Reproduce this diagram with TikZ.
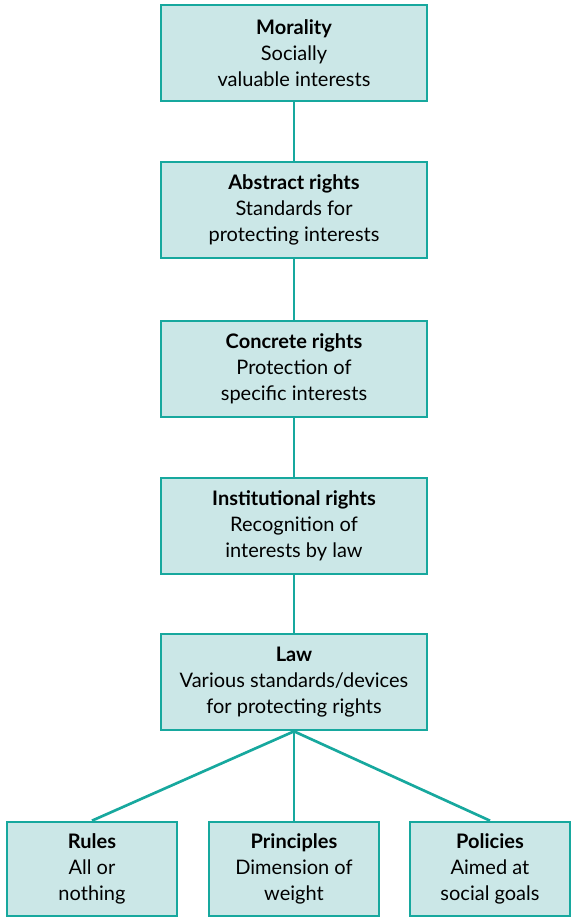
\documentclass[tikz,border=0pt]{standalone}
\usepackage{fontspec}
\setmainfont{Lato}
\definecolor{tealline}{HTML}{17A89E}
\definecolor{tealfill}{HTML}{CBE7E7}
\begin{document}
\begin{tikzpicture}[x=0.75pt,y=-0.75pt,
  box/.style={draw=tealline,fill=tealfill,line width=2pt,align=center,
    font=\fontsize{15}{19.5}\selectfont,inner sep=0pt},
  conn/.style={draw=tealline,line width=2pt}]
\useasboundingbox (0,0) rectangle (573,918);
\node[box,minimum width=266*0.75pt,minimum height=96*0.75pt] (m) at (294,53) {\textbf{Morality}\\Socially\\valuable interests};
\node[box,minimum width=266*0.75pt,minimum height=96*0.75pt] (a) at (294,210) {\textbf{Abstract rights}\\Standards for\\protecting interests};
\node[box,minimum width=266*0.75pt,minimum height=96*0.75pt] (c) at (294,369) {\textbf{Concrete rights}\\Protection of\\specific interests};
\node[box,minimum width=266*0.75pt,minimum height=96*0.75pt] (i) at (294,526) {\textbf{Institutional rights}\\Recognition of\\interests by law};
\node[box,minimum width=266*0.75pt,minimum height=96*0.75pt] (l) at (294,682) {\textbf{Law}\\Various standards/devices\\for protecting rights};
\node[box,minimum width=170*0.75pt,minimum height=94*0.75pt] (r) at (92,869) {\textbf{Rules}\\All or\\nothing};
\node[box,minimum width=170*0.75pt,minimum height=94*0.75pt] (p) at (294,869) {\textbf{Principles}\\Dimension of\\weight};
\node[box,minimum width=160*0.75pt,minimum height=94*0.75pt] (q) at (490,869) {\textbf{Policies}\\Aimed at\\social goals};
\draw[conn] (m) -- (a);
\draw[conn] (a) -- (c);
\draw[conn] (c) -- (i);
\draw[conn] (i) -- (l);
\draw[conn] (l.south) -- (r.north);
\draw[conn] (l.south) -- (p.north);
\draw[conn] (l.south) -- (q.north);
\end{tikzpicture}
\end{document}
